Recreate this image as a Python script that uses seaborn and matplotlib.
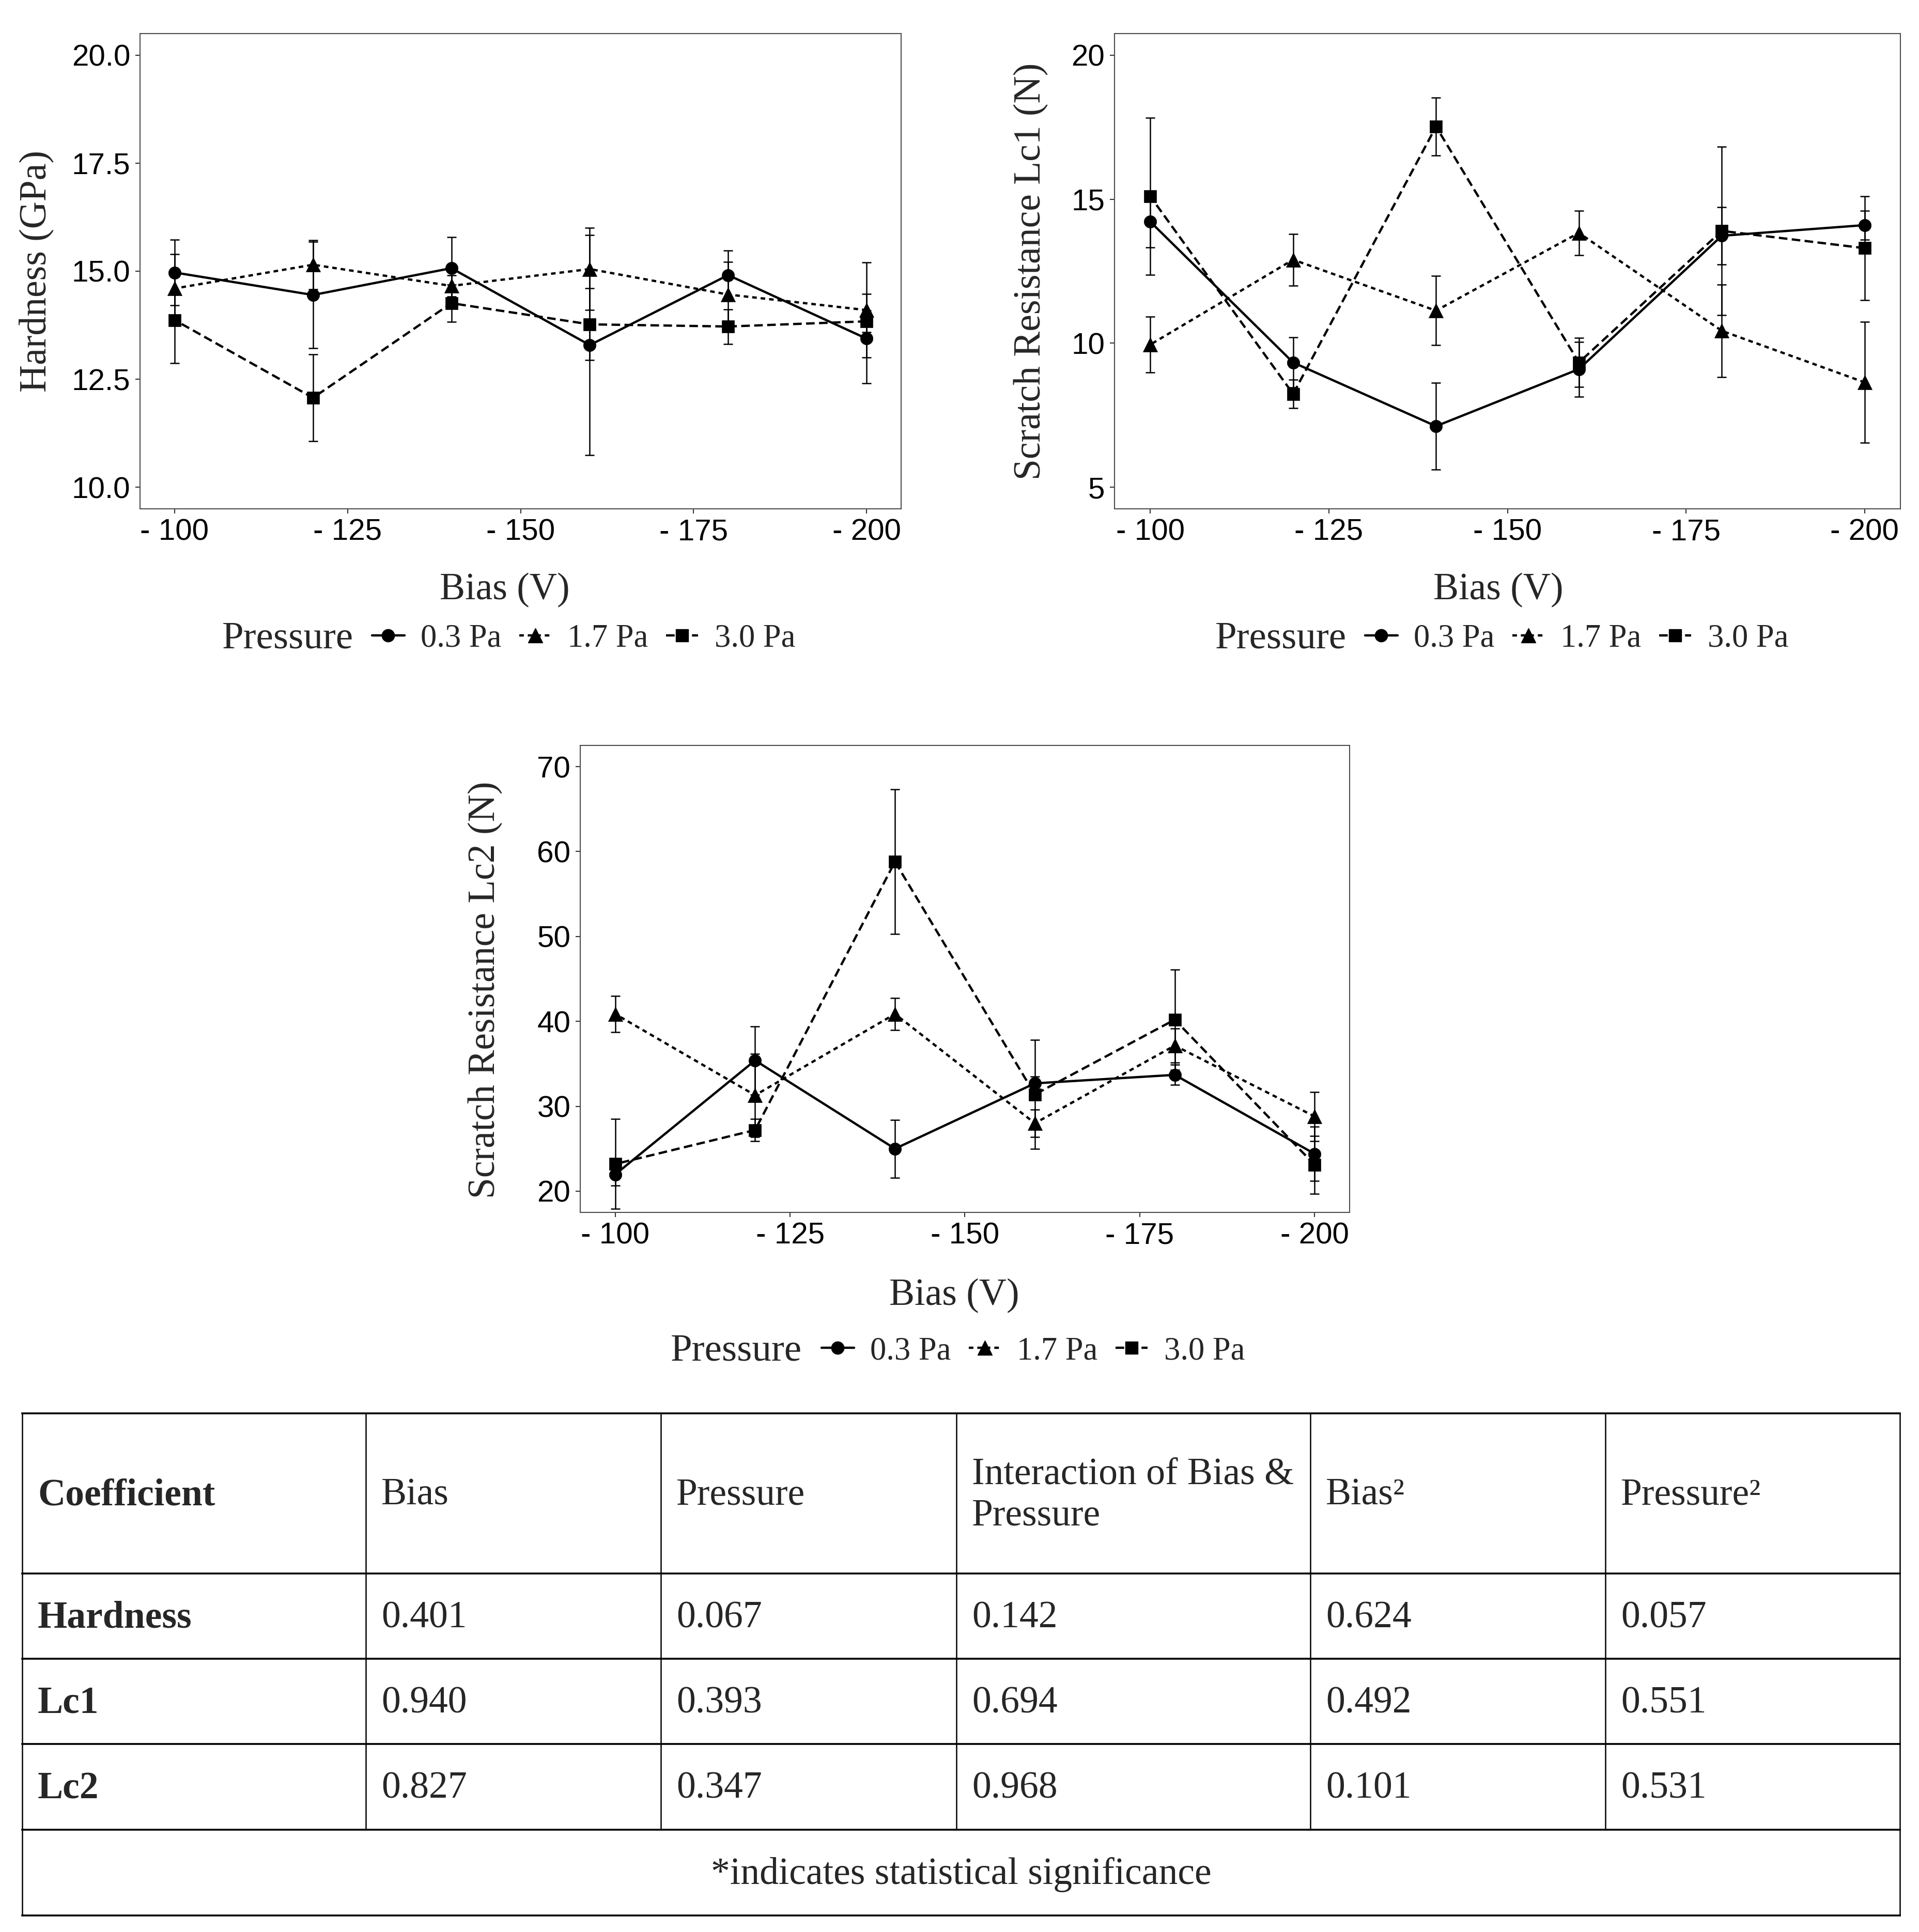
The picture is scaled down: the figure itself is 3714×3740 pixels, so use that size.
import matplotlib
matplotlib.use("Agg")
import matplotlib.pyplot as plt
from matplotlib.lines import Line2D
import pandas as pd
import seaborn as sns

# bias voltage (V) and pressure levels
bias = [-100, -120, -140, -160, -180, -200]
pressures = ["0.3 Pa", "1.7 Pa", "3.0 Pa"]

# hardness (GPa), mean and error per pressure
hard_03 = [14.97, 14.45, 15.07, 13.29, 14.91, 13.44]
hard_17 = [14.60, 15.15, 14.66, 15.05, 14.46, 14.10]
hard_30 = [13.87, 12.07, 14.26, 13.77, 13.72, 13.84]
hard_03_err = [0.76, 1.23, 0.72, 2.55, 0.57, 1.03]
hard_17_err = [0.80, 0.57, 0.25, 0.95, 0.76, 1.10]
hard_30_err = [1.00, 1.00, 0.43, 0.83, 0.40, 0.25]

# scratch resistance Lc1 (N)
lc1_03 = [14.22, 9.33, 7.12, 9.10, 13.73, 14.10]
lc1_17 = [9.95, 12.90, 11.13, 13.83, 10.43, 8.64]
lc1_30 = [15.10, 8.24, 17.52, 9.33, 13.90, 13.30]
lc1_03_err = [0.90, 0.87, 1.50, 0.95, 1.00, 0.50]
lc1_17_err = [0.97, 0.90, 1.20, 0.77, 1.60, 2.10]
lc1_30_err = [2.73, 0.50, 1.00, 0.85, 2.93, 1.80]

# scratch resistance Lc2 (N)
lc2_03 = [21.97, 35.40, 25.00, 32.70, 33.70, 24.40]
lc2_17 = [40.87, 31.30, 40.87, 28.00, 37.15, 28.80]
lc2_30 = [23.20, 27.20, 58.80, 31.40, 40.20, 23.10]
lc2_03_err = [1.30, 4.00, 3.40, 0.80, 1.20, 3.20]
lc2_17_err = [2.15, 4.90, 1.90, 1.60, 2.00, 2.90]
lc2_30_err = [5.30, 1.30, 8.50, 6.40, 5.90, 3.40]

# table of p-values
table_header = ["Coefficient", "Bias", "Pressure", "Interaction of Bias &\nPressure", "Bias²", "Pressure²"]
table_rows = ["Hardness", "Lc1", "Lc2"]
coef_bias = ["0.401", "0.940", "0.827"]
coef_pressure = ["0.067", "0.393", "0.347"]
coef_interaction = ["0.142", "0.694", "0.968"]
coef_bias2 = ["0.624", "0.492", "0.101"]
coef_pressure2 = ["0.057", "0.551", "0.531"]
footnote = "*indicates statistical significance"

sns.set_theme(style="ticks")
plt.rcParams["font.family"] = ["Liberation Serif", "DejaVu Serif"]

W, H = 3714, 3740
fig = plt.figure(figsize=(W / 100, H / 100), dpi=100)

markers = {"0.3 Pa": "o", "1.7 Pa": "^", "3.0 Pa": "s"}
dashes = {"0.3 Pa": "", "1.7 Pa": (2.0, 1.7), "3.0 Pa": (3.75, 1.9)}
msize = {"o": 17.5, "^": 20, "s": 17}
LW = 3.2


def px_axes(x0, y0, x1, y1):
    return fig.add_axes([x0 / W, 1 - y1 / H, (x1 - x0) / W, (y1 - y0) / H])


def long_frame(series):
    rows = []
    for p, vals in zip(pressures, series):
        for b, v in zip(bias, vals):
            rows.append({"Bias": b, "Pressure": p, "Value": v})
    return pd.DataFrame(rows)


def panel(box, means, errs, ylim, yticks, yfmt, ylabel, ylab_pos, xlab_pos, leg_pos):
    ax = px_axes(*box)
    for vals, err in zip(means, errs):
        ax.errorbar(bias, vals, yerr=err, fmt="none", ecolor="black",
                    elinewidth=1.8, capsize=6.8, capthick=1.8, zorder=1)
    df = long_frame(means)
    sns.lineplot(data=df, x="Bias", y="Value", style="Pressure", markers=markers,
                 dashes=dashes, color="black", linewidth=LW, errorbar=None,
                 markeredgecolor="black", markeredgewidth=0.5, legend=False, ax=ax, zorder=2)
    for ln in ax.lines:
        m = ln.get_marker()
        if m in msize:
            ln.set_markersize(msize[m])

    ax.set_xlim(-95, -205)
    ax.set_ylim(*ylim)
    xt = [-100, -125, -150, -175, -200]
    ax.set_xticks(xt)
    ax.set_xticklabels([f"- {abs(v)}" for v in xt])
    ax.set_yticks(yticks)
    ax.set_yticklabels([yfmt.format(v) for v in yticks])
    for lab in ax.get_xticklabels() + ax.get_yticklabels():
        lab.set_fontfamily("Liberation Sans")
        lab.set_fontsize(42)
        lab.set_color("black")
    ax.tick_params(length=6.5, width=1.5, color="#333333", pad=7)
    for sp in ax.spines.values():
        sp.set_visible(True)
        sp.set_color("#4d4d4d")
        sp.set_linewidth(1.5)

    ax.set_xlabel("Bias (V)", fontsize=53)
    ax.set_ylabel(ylabel, fontsize=53)
    ax.xaxis.label.set_va("center")
    ax.yaxis.label.set_va("center")
    ax.xaxis.set_label_coords(*xlab_pos)
    ax.yaxis.set_label_coords(*ylab_pos)

    # legend: title on the left, keys in a row
    fig.text(leg_pos[0] / W, 1 - leg_pos[2] / H, "Pressure", fontsize=54,
             ha="left", va="center")
    handles = []
    for p in pressures:
        h = Line2D([], [], color="black", lw=LW, marker=markers[p],
                   markersize=msize[markers[p]])
        if dashes[p]:
            h.set_dashes(dashes[p])
        handles.append(h)
    ax.legend(handles, pressures, ncol=3, loc="center left",
              bbox_to_anchor=(leg_pos[1] / W, 1 - leg_pos[2] / H),
              bbox_transform=fig.transFigure, frameon=False, fontsize=45,
              handlelength=1.0, handletextpad=0.5, columnspacing=0.55,
              borderpad=0, borderaxespad=0)
    return ax


panel((271, 65, 1744, 985), [hard_03, hard_17, hard_30],
      [hard_03_err, hard_17_err, hard_30_err], (9.5, 20.5),
      [10.0, 12.5, 15.0, 17.5, 20.0], "{:.1f}", "Hardness (GPa)",
      (-0.136, 0.5), (0.479, -0.171), (430, 720, 1237))

panel((2157, 65, 3678, 985), [lc1_03, lc1_17, lc1_30],
      [lc1_03_err, lc1_17_err, lc1_30_err], (4.25, 20.75),
      [5, 10, 15, 20], "{:d}", "Scratch Resistance Lc1 (N)",
      (-0.106, 0.5), (0.4885, -0.171), (2352, 2642, 1237))

panel((1123, 1443, 2612, 2347), [lc2_03, lc2_17, lc2_30],
      [lc2_03_err, lc2_17_err, lc2_30_err], (17.5, 72.5),
      [20, 30, 40, 50, 60, 70], "{:d}", "Scratch Resistance Lc2 (N)",
      (-0.123, 0.476), (0.486, -0.179), (1298, 1590, 2616))

# coefficient table
tab = fig.add_axes([0, 0, 1, 1], zorder=-1)
tab.set_xlim(0, W)
tab.set_ylim(H, 0)
tab.axis("off")
col_x = [43, 708, 1279, 1851, 2536, 3107, 3677]
row_y = [2736, 3046, 3211, 3376, 3542, 3708]
for y in row_y:
    tab.plot([col_x[0], col_x[-1]], [y, y], color="black", lw=2.6, solid_capstyle="projecting")
for i, x in enumerate(col_x):
    y_end = row_y[-1] if i in (0, len(col_x) - 1) else row_y[-2]
    tab.plot([x, x], [row_y[0], y_end], color="black", lw=1.8)

pad = 30
hy = (row_y[0] + row_y[1]) / 2 + 4
for j, txt in enumerate(table_header):
    tab.text(col_x[j] + pad, hy, txt, fontsize=53, ha="left", va="center",
             fontweight="bold" if j == 0 else "normal", linespacing=1.25)

columns = [coef_bias, coef_pressure, coef_interaction, coef_bias2, coef_pressure2]
for i, name in enumerate(table_rows):
    cy = (row_y[i + 1] + row_y[i + 2]) / 2 + 4
    tab.text(col_x[0] + pad, cy, name, fontsize=53, ha="left", va="center", fontweight="bold")
    for j, col in enumerate(columns):
        tab.text(col_x[j + 1] + pad, cy, col[i], fontsize=53, ha="left", va="center")

tab.text((col_x[0] + col_x[-1]) / 2, (row_y[-2] + row_y[-1]) / 2 + 4, footnote,
         fontsize=53, ha="center", va="center")

fig.savefig("out.png", dpi=100, facecolor="white")
